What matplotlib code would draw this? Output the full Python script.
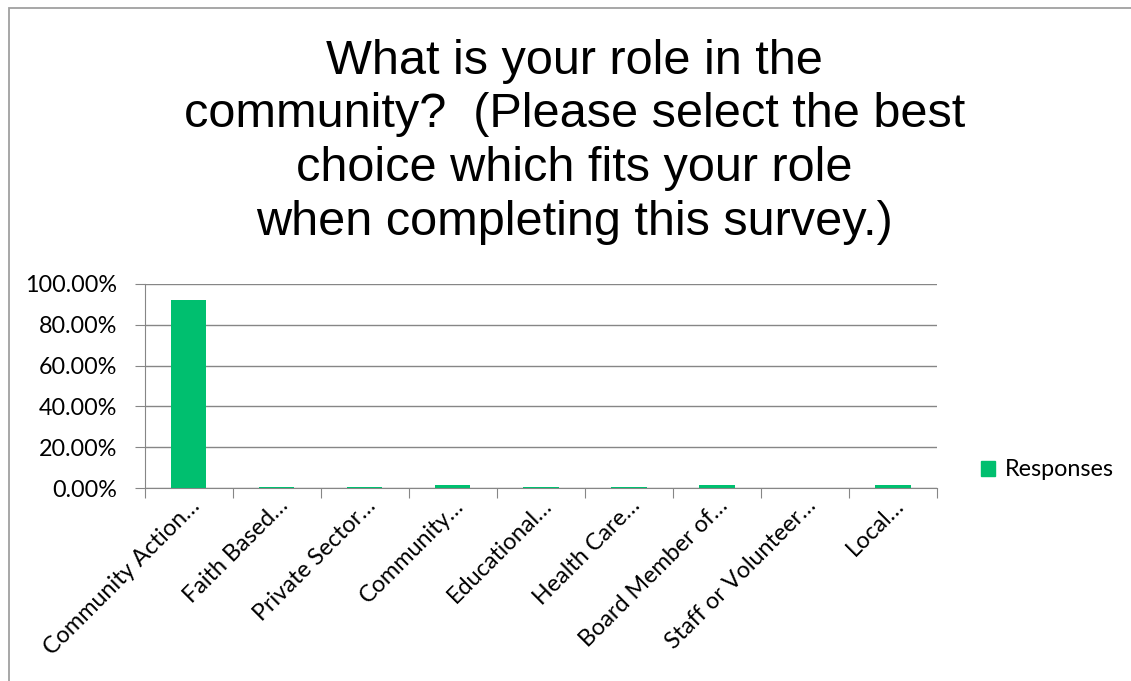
import matplotlib
matplotlib.use("Agg")
import matplotlib.pyplot as plt
from matplotlib.patches import Rectangle, Patch
import numpy as np

categories = ["Community Action…", "Faith Based…", "Private Sector…", "Community…",
              "Educational…", "Health Care…", "Board Member of…", "Staff or Volunteer…", "Local…"]
responses = [0.923, 0.004, 0.004, 0.013, 0.004, 0.004, 0.013, 0.0, 0.013]
yticks = [0, 0.2, 0.4, 0.6, 0.8, 1.0]
title = "What is your role in the\ncommunity?  (Please select the best\nchoice which fits your role\nwhen completing this survey.)"

green = "#00BF6F"
gray = "#868686"
label_font = ["Lato", "DejaVu Sans"]
fs = 16.8

fig = plt.figure(figsize=(11.31, 6.81), dpi=100)
fig.patches.append(Rectangle((0.008, -0.01), 1.5, 0.998, transform=fig.transFigure,
                             fill=False, edgecolor="#A0A0A0", linewidth=1.3))

ax = fig.add_axes([0.128, 0.2834, 0.7005, 0.2996])
x = np.arange(len(categories))
ax.bar(x, responses, width=0.4, color=green, zorder=3)
ax.set_xlim(-0.5, len(categories) - 0.5)
ax.set_ylim(0, 1.0)
ax.set_yticks(yticks)
ax.set_yticklabels([f"{v*100:.2f}%" for v in yticks], fontsize=fs, family=label_font)
ax.yaxis.grid(True, color=gray, linewidth=1, zorder=0)
ax.set_xticks(np.arange(-0.5, len(categories), 1.0))
ax.set_xticklabels([])
ax.set_xticks(x, minor=True)
ax.set_xticklabels(categories, minor=True, rotation=45, ha="right", va="top",
                   rotation_mode="anchor", fontsize=fs, family=label_font)
ax.tick_params(axis="x", which="minor", length=0, pad=5)
ax.tick_params(axis="x", which="major", length=7, color=gray, direction="out")
ax.tick_params(axis="y", length=7, color=gray, direction="out", pad=13)
for s in ["top", "right"]:
    ax.spines[s].set_visible(False)
for s in ["left", "bottom"]:
    ax.spines[s].set_color(gray)

fig.text(0.508, 0.943, title, ha="center", va="top", fontsize=35,
         family=["Liberation Sans", "DejaVu Sans"], linespacing=1.245)

leg = fig.legend(handles=[Patch(color=green, label="Responses")], loc="center left",
                 bbox_to_anchor=(0.849, 0.31), frameon=False,
                 prop={"family": label_font, "size": fs}, handlelength=0.6, handleheight=0.6,
                 handletextpad=0.4)

fig.savefig("out.png", dpi=100)
